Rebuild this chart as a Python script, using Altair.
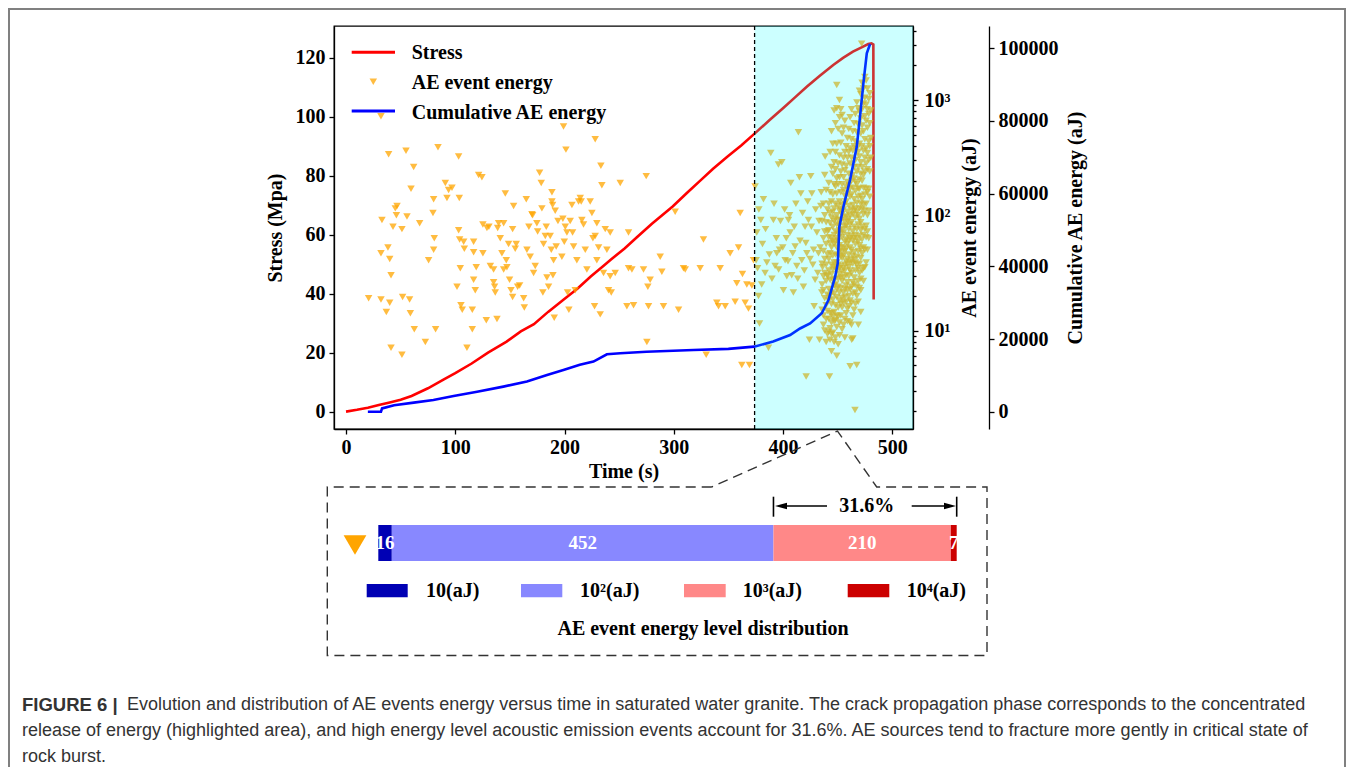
import altair as alt
import pandas as pd

# ---------------- values ----------------
stress_time = [0, 10, 20, 30, 40, 50, 60, 75, 90, 100,
               115, 130, 147, 160, 172, 185, 199, 212, 224, 235,
               242, 255, 266, 280, 299, 312, 324, 336, 349, 362,
               376, 388, 400, 411, 422, 434, 446, 455, 464, 471,
               478, 481, 482.7, 483]
stress_mpa = [0, 0.6, 1.3, 2.2, 3.1, 4.0, 5.3, 7.9, 11.0, 13.0,
              16.3, 20.0, 23.7, 27.2, 29.6, 33.8, 37.9, 41.7, 45.8, 49.2,
              51.4, 55.3, 59.0, 63.7, 69.5, 74.1, 78.2, 82.3, 86.4, 90.3,
              94.9, 98.9, 102.8, 106.5, 110.2, 113.9, 117.5, 119.9, 122.0, 123.3,
              124.6, 124.8, 124.4, 38.0]

cum_time = [20, 32, 33, 44, 62, 80, 98.5, 120, 144, 165.6,
            184, 199, 214, 226.5, 238.8, 251, 275, 318, 350, 373.6,
            391, 406.5, 415.6, 424.8, 435.5, 441.6, 447.7, 450.1, 451.6, 455.3,
            461.4, 467.5, 470.5, 473.6, 476.7, 479.7]
cum_energy = [0, 0, 900, 1800, 2500, 3200, 4300, 5500, 6900, 8300,
              10100, 11500, 12900, 13800, 15800, 16100, 16500, 17000, 17300, 17900,
              19300, 21100, 22900, 24300, 27100, 30700, 37100, 40800, 50900, 56400,
              63800, 72900, 81200, 90400, 98600, 101200]

# AE events (time s, log10 of energy in aJ)
ae_time = [20.7, 32.0, 32.9, 32.0, 32.0, 36.9, 38.4, 39.0, 40.0, 41.2,
           41.2, 40.0, 43.0, 45.1, 46.7, 46.1, 51.2, 51.8, 51.2, 54.9,
           55.8, 58.2, 58.9, 59.5, 61.9, 62.5, 67.4, 72.6, 75.6, 79.6,
           80.2, 80.8, 80.2, 82.0, 84.2, 90.9, 92.4, 93.9, 97.0, 103.7,
           103.1, 103.1, 104.0, 104.6, 101.6, 105.2, 106.4, 107.7, 108.3, 110.7,
           115.6, 115.6, 116.8, 116.8, 116.8, 118.3, 119.2, 121.4, 124.4, 125.3,
           125.3, 128.4, 129.0, 130.8, 132.1, 135.1, 135.1, 136.0, 136.6, 138.2,
           138.8, 139.7, 141.2, 142.7, 144.3, 144.3, 145.8, 146.7, 147.3, 148.8,
           149.7, 151.0, 152.5, 152.5, 153.4, 154.9, 155.8, 157.1, 158.9, 162.6,
           163.2, 165.0, 165.6, 167.4, 168.6, 170.2, 170.8, 171.7, 173.2, 174.7,
           175.4, 177.2, 178.7, 179.3, 180.2, 180.8, 182.4, 183.3, 183.9, 185.4,
           186.9, 187.9, 188.5, 188.5, 189.1, 189.4, 190.0, 190.6, 191.5, 192.4,
           194.0, 197.6, 198.5, 199.1, 199.8, 200.7, 201.3, 202.2, 202.8, 204.0,
           205.2, 206.8, 207.4, 208.3, 209.8, 211.3, 212.9, 214.4, 215.3, 215.9,
           217.4, 219.0, 220.5, 223.5, 225.1, 226.0, 227.5, 228.1, 228.1, 229.6,
           229.6, 231.2, 232.7, 233.3, 234.2, 235.7, 237.3, 238.8, 240.3, 241.8,
           241.8, 242.8, 246.4, 251.0, 257.1, 258.6, 258.6, 261.7, 263.2, 272.3,
           274.8, 275.4, 276.3, 276.9, 278.4, 287.6, 289.1, 290.6, 301.3, 304.4,
           308.9, 310.5, 324.2, 327.2, 329.7, 339.4, 341.0, 342.5, 347.1, 351.6,
           356.2, 357.7, 359.3, 360.8, 362.3, 362.9, 365.4, 366.9, 368.4, 369.3,
           371.5, 373.0,
           374.5, 375.4, 376.7, 377.6, 378.5, 379.7, 382.1, 383.6, 385.2, 386.7,
           388.8, 391.2, 392.8, 394.3, 395.8, 396.8, 398.9, 400.4, 402.0, 403.5,
           405.0, 406.5, 407.1, 408.9, 409.5, 411.1, 412.6, 414.1, 415.0, 416.3,
           417.2, 418.7, 420.2, 421.2, 421.8, 423.3, 424.2, 425.4, 426.4, 427.3,
           428.5, 429.4, 431.0, 432.5, 433.4, 434.6, 435.5, 438.6, 440.7, 442.5,
           443.1, 444.7, 462.9, 465.9, 467.5, 469.0, 472.0,
           376.0, 377.9, 380.5, 381.2, 384.0, 387.5, 389.9, 391.8, 393.9, 396.0,
           397.7, 399.8, 401.5, 403.0, 404.6, 406.0, 408.0, 410.3, 411.8, 413.5,
           415.6, 417.9, 419.5, 420.9, 422.6, 424.8, 426.0, 428.0, 429.9, 431.8,
           433.0, 434.0, 435.0, 436.2]
ae_log10_energy = [1.28, 2.86, 1.96, 1.67, 1.27, 1.16, 1.72, 2.53, 1.62, 1.48,
                   0.85, 1.24, 1.90, 2.06, 2.08, 2.00, 1.88, 1.29, 0.79, 2.56,
                   1.99, 1.27, 1.15, 2.23, 2.42, 1.01, 1.93, 0.90, 1.61, 2.02,
                   2.14, 1.80, 1.70, 1.01, 2.59, 2.28, 2.15, 2.22, 2.24, 2.15,
                   2.51, 1.87, 1.79, 1.54, 1.38, 1.22, 1.18, 1.77, 1.71, 0.85,
                   1.01, 1.18, 1.77, 1.68, 1.44, 1.35, 1.55, 2.35, 2.33, 1.67,
                   1.92, 1.09, 1.89, 1.90, 1.56, 1.53, 1.42, 1.38, 1.33, 1.10,
                   1.89, 1.93, 1.80, 1.67, 1.93, 1.53, 2.19, 1.61, 1.55, 1.75,
                   1.44, 1.35, 1.29, 1.88, 2.08, 1.71, 1.75, 1.38, 1.39, 1.28,
                   1.20, 2.14, 1.70, 1.90, 1.64, 2.01, 2.00, 1.50, 1.56, 1.93,
                   1.86, 2.37, 2.28, 2.06, 1.33, 1.75, 1.82, 1.90, 1.46, 1.38,
                   1.82, 1.70, 2.20, 2.12, 2.09, 1.48, 1.61, 1.11, 2.04, 1.73,
                   1.95, 1.64, 1.97, 2.77, 1.77, 1.90, 2.57, 1.85, 1.33, 1.18,
                   1.95, 2.09, 1.85, 1.73, 1.35, 1.61, 2.12, 2.15, 2.12, 1.96,
                   1.92, 1.70, 1.53, 2.12, 2.02, 1.80, 1.21, 2.66, 1.82, 1.93,
                   1.61, 1.72, 1.14, 2.43, 2.26, 1.50, 1.88, 1.70, 1.35, 1.85,
                   1.47, 1.33, 1.50, 2.28, 1.21, 1.85, 1.54, 1.53, 1.22, 1.53,
                   2.34, 0.90, 1.38, 1.21, 1.44, 1.64, 1.51, 1.21, 2.03, 1.18,
                   1.54, 1.53, 1.54, 1.79, 0.79, 1.24, 1.21, 1.54, 1.21, 1.67,
                   1.25, 1.41, 1.72, 2.02, 0.70, 1.49, 1.24, 1.40, 1.19, 0.70,
                   1.39, 1.61,
                   2.25, 1.61, 1.54, 1.30, 1.06, 1.96, 2.14, 1.50, 1.59, 0.85,
                   2.54, 1.96, 1.56, 1.67, 2.44, 1.70, 2.46, 1.35, 1.61, 1.47,
                   1.96, 1.85, 2.28, 1.67, 1.33, 1.73, 1.56, 2.72, 2.33, 2.19,
                   1.61, 1.38, 1.90, 0.60, 1.67, 1.96, 0.92, 2.34, 2.19, 1.57,
                   1.21, 1.44, 1.85, 1.67, 0.92, 2.08, 1.33, 2.51, 1.47, 0.60,
                   0.92, 1.15, 0.92, 0.31, 0.70, 1.05, 3.49,
                   1.85, 2.05, 1.40, 1.75, 1.88, 1.66, 1.45, 2.10, 1.80, 1.53,
                   1.95, 1.72, 2.05, 1.80, 1.60, 2.00, 1.48, 1.90, 2.10, 1.45,
                   1.78, 2.02, 1.52, 1.76, 2.12, 1.62, 1.90, 1.70, 2.05, 1.50,
                   1.95, 1.72, 2.20, 1.55]

# dense burst of events just before failure: one time column, several energies
burst_time = [437.0, 439.5, 441.9, 444.4, 446.8, 449.2, 451.7, 454.1, 456.6, 459.0,
              461.4, 463.9, 466.3, 468.8, 471.2, 473.7, 476.1, 478.5, 480.3,
              435.8, 438.2, 440.7, 443.1, 445.6, 448.0, 450.5, 452.9, 455.4, 457.8,
              460.2, 462.7, 465.1, 467.6, 470.0, 472.4, 474.9, 477.3, 479.4]
burst_log10_energy = [
    [2.10, 1.80, 1.69, 1.47, 1.35, 1.13, 1.05],
    [2.22, 1.94, 1.75, 1.57, 1.43, 1.22, 1.10, 0.90],
    [2.28, 2.10, 1.87, 1.81, 1.62, 1.52, 1.36, 1.26, 1.10, 0.99],
    [2.73, 2.42, 2.12, 1.98, 1.80, 1.72, 1.57, 1.49, 1.33, 1.23, 1.07, 0.97, 0.82],
    [2.91, 2.46, 2.27, 2.06, 1.95, 1.83, 1.75, 1.59, 1.55, 1.39, 1.32, 1.16, 1.08, 0.90],
    [3.13, 2.93, 2.62, 2.32, 2.19, 2.00, 1.92, 1.80, 1.72, 1.59, 1.52, 1.36, 1.29, 1.13, 1.03, 0.78],
    [3.00, 2.85, 2.52, 2.33, 2.12, 2.04, 1.91, 1.87, 1.74, 1.69, 1.54, 1.49, 1.33, 1.26, 1.07, 0.96],
    [2.87, 2.71, 2.44, 2.27, 2.09, 2.01, 1.88, 1.81, 1.68, 1.63, 1.51, 1.43, 1.28, 1.20, 1.01],
    [2.82, 2.55, 2.39, 2.17, 2.10, 1.94, 1.90, 1.77, 1.69, 1.57, 1.52, 1.36, 1.29, 1.10, 0.94],
    [2.67, 2.50, 2.29, 2.19, 2.03, 1.95, 1.83, 1.75, 1.62, 1.58, 1.42, 1.35, 1.19, 1.08],
    [2.85, 2.58, 2.45, 2.23, 2.16, 2.00, 1.92, 1.80, 1.72, 1.59, 1.52, 1.36, 1.26, 1.07, 0.69],
    [2.73, 2.56, 2.35, 2.24, 2.09, 2.01, 1.86, 1.78, 1.65, 1.58, 1.42, 1.32, 1.13, 0.93],
    [2.88, 2.64, 2.48, 2.29, 2.21, 2.06, 1.98, 1.83, 1.75, 1.59, 1.52, 1.33, 1.23],
    [2.93, 2.79, 2.55, 2.42, 2.23, 2.16, 2.00, 1.92, 1.77, 1.69, 1.54, 1.43, 1.25],
    [3.05, 2.84, 2.71, 2.46, 2.36, 2.17, 2.10, 1.94, 1.87, 1.71, 1.63, 1.45, 1.35, 1.16],
    [3.10, 2.97, 2.73, 2.56, 2.35, 2.24, 2.09, 2.01, 1.83, 1.72, 1.54, 1.43],
    [3.17, 2.96, 2.82, 2.58, 2.45, 2.23, 2.10, 1.91, 1.81, 1.59],
    [3.01, 2.88, 2.64, 2.48, 2.23, 2.04, 1.80],
    [2.91, 2.67, 2.50],
    [1.95, 1.58, 1.40, 1.18],
    [2.35, 2.00, 1.86, 1.62, 1.50, 1.28, 1.00],
    [2.05, 1.86, 1.66, 1.48, 1.31, 1.17, 0.97],
    [2.55, 2.20, 2.02, 1.93, 1.76, 1.67, 1.44, 1.30, 1.15, 1.02],
    [2.62, 2.36, 2.18, 2.03, 1.90, 1.78, 1.65, 1.53, 1.44, 1.27, 1.12, 0.98],
    [2.80, 2.55, 2.40, 2.25, 2.10, 1.97, 1.86, 1.77, 1.66, 1.56, 1.45, 1.40, 1.22, 1.09, 0.94],
    [2.75, 2.45, 2.27, 2.08, 1.96, 1.84, 1.78, 1.65, 1.57, 1.45, 1.38, 1.20, 1.12, 0.88],
    [2.92, 2.63, 2.38, 2.20, 2.05, 1.96, 1.84, 1.72, 1.64, 1.56, 1.46, 1.37, 1.23, 1.13],
    [2.76, 2.50, 2.33, 2.22, 2.05, 1.98, 1.85, 1.72, 1.65, 1.54, 1.46, 1.33, 1.24, 1.05],
    [2.60, 2.43, 2.25, 2.12, 1.99, 1.91, 1.79, 1.71, 1.60, 1.48, 1.39, 1.25, 1.15],
    [2.75, 2.55, 2.36, 2.26, 2.08, 1.97, 1.88, 1.78, 1.66, 1.55, 1.47, 1.30, 1.21],
    [2.92, 2.66, 2.50, 2.30, 2.18, 2.05, 1.94, 1.82, 1.70, 1.61, 1.50, 1.38, 1.24, 1.05],
    [2.80, 2.60, 2.42, 2.32, 2.14, 2.04, 1.90, 1.80, 1.68, 1.62, 1.46, 1.40, 1.18],
    [2.98, 2.72, 2.58, 2.38, 2.27, 2.11, 2.03, 1.88, 1.80, 1.64, 1.57, 1.38, 1.30],
    [3.08, 2.90, 2.62, 2.51, 2.31, 2.23, 2.06, 1.97, 1.82, 1.74, 1.58, 1.50, 1.37],
    [3.15, 2.92, 2.78, 2.60, 2.42, 2.30, 2.14, 2.05, 1.90, 1.79, 1.67, 1.52],
    [3.20, 3.02, 2.86, 2.66, 2.50, 2.38, 2.18, 2.04, 1.88, 1.70, 1.55],
    [3.10, 2.92, 2.76, 2.54, 2.40, 2.20, 2.00, 1.86, 1.70],
    [3.06, 2.80, 2.60, 2.38, 2.16],
]

crack_phase_start = 374  # s, start of highlighted crack propagation phase

level_labels = ["10(aJ)", "10\u00b2(aJ)", "10\u00b3(aJ)", "10\u2074(aJ)"]
level_counts = [16, 452, 210, 7]
high_level_share = "31.6%"

caption_bold = "FIGURE 6 |"
caption_lines = [
    "Evolution and distribution of AE events energy versus time in saturated water granite. The crack propagation phase corresponds to the concentrated",
    "release of energy (highlighted area), and high energy level acoustic emission events account for 31.6%. AE sources tend to fracture more gently in critical state of",
    "rock burst.",
]

# ---------------- styling ----------------
W, H = 579, 403
SERIF = "Liberation Serif"
SANS = "Liberation Sans"
level_colors = ["#0000b4", "#8888ff", "#ff8888", "#cc0000"]

t_dom = [-11, 519]
x_enc = alt.X("t:Q", scale=alt.Scale(domain=t_dom, nice=False, zero=False),
              axis=alt.Axis(title="Time (s)", values=[0, 100, 200, 300, 400, 500],
                            labelPadding=3, titlePadding=4))

# ---------------- main plot ----------------
stress_df = pd.DataFrame({"t": stress_time, "stress": stress_mpa})
stress_line = alt.Chart(stress_df).mark_line(color="#ff0000", strokeWidth=2.6).encode(
    x=x_enc,
    y=alt.Y("stress:Q", scale=alt.Scale(domain=[-5.9, 130.7], nice=False, zero=False),
            axis=alt.Axis(orient="left", title="Stress (Mpa)", values=[0, 20, 40, 60, 80, 100, 120],
                          labelPadding=4, titlePadding=10)))

all_t = list(ae_time)
all_log = list(ae_log10_energy)
for bt, vals in zip(burst_time, burst_log10_energy):
    for v in vals:
        all_t.append(bt)
        all_log.append(v)
ae_df = pd.DataFrame({"t": all_t, "energy": [10 ** v for v in all_log]})

energy_scale = alt.Scale(type="log", domain=[1.397, 4395], nice=False)
scatter = alt.Chart(ae_df).mark_point(shape="triangle-down", filled=True, color="#ffa500",
                                      opacity=0.75, size=56, strokeWidth=0).encode(
    x=x_enc,
    y=alt.Y("energy:Q", scale=energy_scale,
            axis=alt.Axis(orient="right", title="AE event energy (aJ)", values=[10, 100, 1000],
                          labelExpr="datum.value == 10 ? '10\u00b9' : datum.value == 100 ? '10\u00b2' : datum.value == 1000 ? '10\u00b3' : ''",
                          titleAngle=270, labelPadding=6, titlePadding=30)))

minor_vals = [2, 3, 4, 5, 6, 7, 8, 9, 20, 30, 40, 50, 60, 70, 80, 90,
              200, 300, 400, 500, 600, 700, 800, 900, 2000, 3000, 4000]
minor = alt.Chart(pd.DataFrame({"energy": [10]})).mark_point(opacity=0).encode(
    y=alt.Y("energy:Q", scale=energy_scale,
            axis=alt.Axis(orient="right", values=minor_vals, labels=False, domain=False,
                          tickSize=3, title="")))

cum_df = pd.DataFrame({"t": cum_time, "cum": cum_energy})
cum_line = alt.Chart(cum_df).mark_line(color="#0000ff", strokeWidth=2.6).encode(
    x=x_enc,
    y=alt.Y("cum:Q", scale=alt.Scale(domain=[-4760, 106140], nice=False, zero=False),
            axis=alt.Axis(orient="right", offset=76, title="Cumulative AE energy (aJ)",
                          values=[0, 20000, 40000, 60000, 80000, 100000], format="d",
                          titleAngle=270, labelPadding=4, titlePadding=27)))

phase_df = pd.DataFrame({"t": [crack_phase_start], "t_end": [t_dom[1]]})
cyan = alt.Chart(phase_df).mark_rect(color="#00ffff", opacity=0.2).encode(
    x=x_enc, x2="t_end:Q", y=alt.value(0), y2=alt.value(H))
vline = alt.Chart(phase_df).mark_rule(color="black", strokeDash=[4, 3], strokeWidth=1.3).encode(
    x=x_enc, y=alt.value(0), y2=alt.value(H))

main = alt.layer(stress_line, scatter, minor, cum_line, cyan, vline).resolve_scale(y="independent")


# ---------------- decorations (pixel positions) ----------------
def PX(f):
    return alt.X(f, scale=None, axis=None)


def PY(f):
    return alt.Y(f, scale=None, axis=None)


def texts(df, **kw):
    style = dict(font=SERIF, fontWeight="bold", fontSize=20, color="black", baseline="middle", align="left")
    style.update(kw)
    return alt.Chart(df).mark_text(**style).encode(x=PX("x:Q"), y=PY("y:Q"), text="text:N")


legend_lines = alt.Chart(pd.DataFrame({"x": [17.7, 17.7], "x2": [61, 61], "y": [26.3, 85],
                                       "c": ["#ff0000", "#0000ff"]})).mark_rule(strokeWidth=3).encode(
    x=PX("x:Q"), x2="x2:Q", y=PY("y:Q"), color=alt.Color("c:N", scale=None))
legend_tri = alt.Chart(pd.DataFrame({"x": [39.3], "y": [55.7]})).mark_point(
    shape="triangle-down", filled=True, color="#ffa500", opacity=0.75, size=56, strokeWidth=0).encode(
    x=PX("x:Q"), y=PY("y:Q"))
legend_text = texts(pd.DataFrame({"x": [77.7] * 3, "y": [27.3, 57.3, 86.7],
                                  "text": ["Stress", "AE event energy", "Cumulative AE energy"]}))

box_df = pd.DataFrame({
    "i": list(range(8)),
    "x": [377.7, -6.7, -6.7, 653, 653, 542.7, 503.5, 377.7],
    "y": [461, 461, 629.5, 629.5, 461, 461, 405, 461],
})
callout = alt.Chart(box_df).mark_line(color="#333333", strokeWidth=1.4, strokeDash=[10, 6]).encode(
    x=PX("x:Q"), y=PY("y:Q"), order="i:Q")

big_tri = alt.Chart(pd.DataFrame({"x": [21], "y": [519]})).mark_point(
    shape="triangle-down", filled=True, color="#ffa500", opacity=1, size=520, strokeWidth=0).encode(
    x=PX("x:Q"), y=PY("y:Q"))

arrow_lines = alt.Chart(pd.DataFrame({"x": [447, 577.7], "x2": [493, 616], "y": [480, 480]})).mark_rule(
    color="black", strokeWidth=1.6).encode(x=PX("x:Q"), x2="x2:Q", y=PY("y:Q"))
arrow_left = alt.Chart(pd.DataFrame({"x": [447], "y": [480]})).mark_point(
    shape="M-1,0L1,-0.55L1,0.55Z", filled=True, color="black", size=144, opacity=1, strokeWidth=0).encode(
    x=PX("x:Q"), y=PY("y:Q"))
arrow_right = alt.Chart(pd.DataFrame({"x": [616], "y": [480]})).mark_point(
    shape="M1,0L-1,-0.55L-1,0.55Z", filled=True, color="black", size=144, opacity=1, strokeWidth=0).encode(
    x=PX("x:Q"), y=PY("y:Q"))
share_text = texts(pd.DataFrame({"x": [532.7], "y": [480], "text": [high_level_share]}), align="center")

sw_df = pd.DataFrame({"x": [32.7, 187, 350, 513.7], "x2": [73.7, 228.3, 391.7, 555.3],
                      "y": [558] * 4, "y2": [571.3] * 4, "c": level_colors})
swatches = alt.Chart(sw_df).mark_rect().encode(
    x=PX("x:Q"), x2="x2:Q", y=PY("y:Q"), y2="y2:Q", color=alt.Color("c:N", scale=None))
sw_text = texts(pd.DataFrame({"x": [92, 246, 408.7, 572.7], "y": [565] * 4, "text": level_labels}))
dist_title = texts(pd.DataFrame({"x": [369], "y": [603.3], "text": ["AE event energy level distribution"]}),
                   align="center")

cap_bold = texts(pd.DataFrame({"x": [-312], "y": [679], "text": [caption_bold]}),
                 font=SANS, fontSize=18.5, color="#333333")
cap_text = texts(pd.DataFrame({"x": [-312 + 105, -312, -312], "y": [679, 705, 731], "text": caption_lines}),
                 font=SANS, fontWeight="normal", fontSize=18, color="#333333")

frame_h = alt.Chart(pd.DataFrame({"x": [-326], "x2": [1012], "y": [-17]})).mark_rule(
    color="#808080", strokeWidth=2).encode(x=PX("x:Q"), x2="x2:Q", y=PY("y:Q"))
frame_v = alt.Chart(pd.DataFrame({"x": [-325, 1011], "y": [-17, -17], "y2": [745, 745]})).mark_rule(
    color="#808080", strokeWidth=2).encode(x=PX("x:Q"), y=PY("y:Q"), y2="y2:Q")

# ---------------- distribution bar (own scale) ----------------
starts = []
acc = 0
for c in level_counts:
    starts.append(acc)
    acc += c
ends = [s + c for s, c in zip(starts, level_counts)]
levels_df = pd.DataFrame({"level": level_labels, "count": level_counts, "start": starts, "end": ends,
                          "mid": [(s + e) / 2 for s, e in zip(starts, ends)], "c": level_colors})
bar_scale = alt.Scale(domain=[0, acc], range=[44.3, 622.7], nice=False, zero=False)
bars = alt.Chart(levels_df).mark_rect().encode(
    x=alt.X("start:Q", scale=bar_scale, axis=None), x2="end:Q",
    y=alt.value(499), y2=alt.value(535), color=alt.Color("c:N", scale=None))
bar_labels = alt.Chart(levels_df).mark_text(font=SERIF, fontWeight="bold", fontSize=19, color="white",
                                            baseline="middle", align="center").encode(
    x=alt.X("mid:Q", scale=bar_scale, axis=None), y=alt.value(517), text="count:Q")
bracket = alt.Chart(pd.DataFrame({"b": [starts[2], acc]})).mark_rule(color="black", strokeWidth=1.6).encode(
    x=alt.X("b:Q", scale=bar_scale, axis=None), y=alt.value(470.7), y2=alt.value(490.7))
bars_group = alt.layer(bars, bar_labels, bracket)

chart = alt.layer(
    main, legend_lines, legend_tri, legend_text, callout, big_tri, arrow_lines, arrow_left, arrow_right,
    share_text, swatches, sw_text, dist_title, cap_bold, cap_text, frame_h, frame_v, bars_group
).resolve_scale(x="independent", y="independent").properties(
    width=W, height=H,
    autosize=alt.AutoSizeParams(type="none"),
    padding={"left": 326, "top": 18, "right": 433, "bottom": 338},
    background="white",
).configure_axis(
    labelFont=SERIF, labelFontSize=20, labelFontWeight="bold", labelColor="black",
    titleFont=SERIF, titleFontSize=20, titleFontWeight="bold", titleColor="black",
    tickColor="black", domainColor="black", tickWidth=1.3, domainWidth=1.3,
    tickSize=5, grid=False, labelFlush=False, labelOverlap=False,
).configure_view(stroke="black", strokeWidth=1.3)

chart.save("out.html", embed_options={"renderer": "svg", "actions": False})
